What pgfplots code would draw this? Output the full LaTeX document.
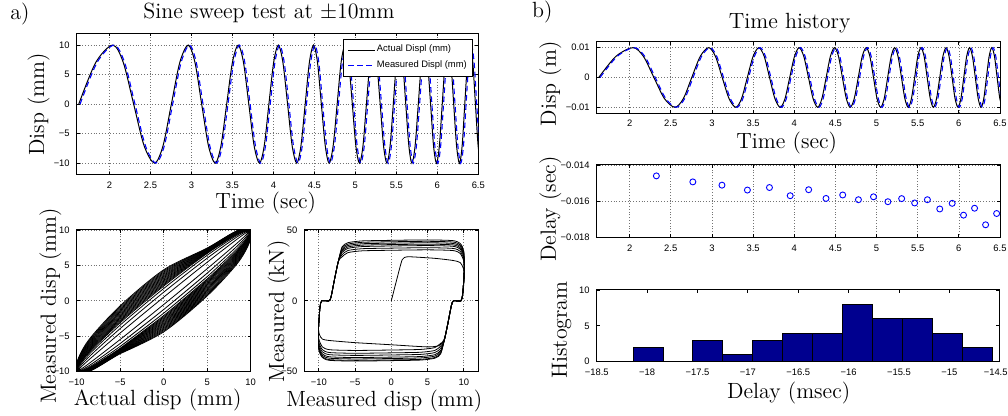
\documentclass[border=0pt]{standalone}
\usepackage{fontspec}
\usepackage{pgfplots}
\usepackage{pgfplotstable}
\pgfplotsset{compat=1.18}
\newfontfamily\tickfamily{Liberation Sans}
\newcommand\tickfont{\tickfamily\fontsize{4.7}{5.5}\selectfont}
\newcommand\labfont{\fontsize{11}{13}\selectfont}
\definecolor{histblue}{rgb}{0,0,0.56}
\pgfplotsset{
  mat/.style={
    scale only axis,
    tick align=inside,
    major tick length=1.6pt,
    tick style={black,line width=0.4pt},
    tick label style={font=\tickfont, inner sep=0pt},
    xticklabel style={yshift=-3.3pt},
    yticklabel style={xshift=-3.3pt},
    label style={font=\labfont, inner sep=0pt},
    major grid style={densely dotted, black!55, line width=0.35pt},
    axis line style={line width=0.5pt},
    scaled ticks=false,
  },
  timeaxis/.style={
    xmin=1.6, xmax=6.5,
    xtick={2,2.5,3,3.5,4,4.5,5,5.5,6,6.5},
    xticklabels={2,2.5,3,3.5,4,4.5,5,5.5,6,6.5},
  },
  loop/.style={black, line width=0.4pt, smooth, mark=none},
  hyst/.style={black, line width=0.4pt, smooth, tension=0.4, mark=none},
  actline/.style={black, line width=0.5pt, smooth, mark=none},
  measline/.style={blue, line width=0.55pt, dash pattern=on 2.8pt off 1.8pt, smooth, mark=none},
}
\pgfplotstableread{
t v
1.625 0
1.833 7.07
2.04 10
2.168 7.07
2.295 0
2.423 -7.07
2.55 -10
2.653 -7.07
2.755 0
2.858 7.07
2.96 10
3.043 7.07
3.125 0
3.208 -7.07
3.29 -10
3.36 -7.07
3.43 0
3.50 7.07
3.57 10
3.635 7.07
3.70 0
3.765 -7.07
3.83 -10
3.888 -7.07
3.945 0
4.003 7.07
4.06 10
4.116 7.07
4.173 0
4.229 -7.07
4.285 -10
4.336 -7.07
4.388 0
4.439 7.07
4.49 10
4.538 7.07
4.585 0
4.633 -7.07
4.68 -10
4.729 -7.07
4.778 0
4.826 7.07
4.875 10
4.919 7.07
4.963 0
5.006 -7.07
5.05 -10
5.093 -7.07
5.135 0
5.178 7.07
5.22 10
5.261 7.07
5.303 0
5.344 -7.07
5.385 -10
5.424 -7.07
5.463 0
5.501 7.07
5.54 10
5.578 7.07
5.615 0
5.653 -7.07
5.69 -10
5.729 -7.07
5.768 0
5.806 7.07
5.845 10
5.881 7.07
5.918 0
5.954 -7.07
5.99 -10
6.025 -7.07
6.06 0
6.095 7.07
6.13 10
6.165 7.07
6.20 0
6.235 -7.07
6.27 -10
6.303 -7.07
6.335 0
6.368 7.07
6.40 10
6.433 7.07
6.465 0
6.498 -7.07
6.53 -10
}\actual
\pgfplotstableread{
t v
1.641 0
1.849 7.07
2.056 10
2.184 7.07
2.311 0
2.439 -7.07
2.566 -10
2.669 -7.07
2.771 0
2.874 7.07
2.976 10
3.059 7.07
3.141 0
3.224 -7.07
3.306 -10
3.376 -7.07
3.446 0
3.516 7.07
3.586 10
3.651 7.07
3.716 0
3.781 -7.07
3.846 -10
3.904 -7.07
3.961 0
4.019 7.07
4.076 10
4.132 7.07
4.189 0
4.245 -7.07
4.301 -10
4.352 -7.07
4.404 0
4.455 7.07
4.506 10
4.554 7.07
4.601 0
4.649 -7.07
4.696 -10
4.745 -7.07
4.794 0
4.842 7.07
4.891 10
4.935 7.07
4.979 0
5.022 -7.07
5.066 -10
5.109 -7.07
5.151 0
5.194 7.07
5.236 10
5.277 7.07
5.319 0
5.360 -7.07
5.401 -10
5.440 -7.07
5.479 0
5.517 7.07
5.556 10
5.594 7.07
5.631 0
5.669 -7.07
5.706 -10
5.745 -7.07
5.784 0
5.822 7.07
5.861 10
5.897 7.07
5.934 0
5.970 -7.07
6.006 -10
6.041 -7.07
6.076 0
6.111 7.07
6.146 10
6.181 7.07
6.216 0
6.251 -7.07
6.286 -10
6.319 -7.07
6.351 0
6.384 7.07
6.416 10
6.449 7.07
6.481 0
6.514 -7.07
6.546 -10
}\measured
\pgfplotstableread{
t d
2.325 -0.01460
2.768 -0.01493
3.122 -0.01511
3.431 -0.01538
3.699 -0.01524
3.951 -0.01569
4.175 -0.01536
4.386 -0.01584
4.589 -0.01565
4.780 -0.01591
4.963 -0.01575
5.138 -0.01602
5.305 -0.01585
5.463 -0.01609
5.618 -0.01591
5.768 -0.01642
5.919 -0.01611
6.057 -0.01676
6.191 -0.01638
6.325 -0.01729
6.459 -0.01667
}\delay
\begin{document}
\begin{tikzpicture}
\useasboundingbox (0,0) rectangle (504pt,208pt);
\node[anchor=base west, inner sep=0pt, font=\labfont] at (5pt,198pt) {a)};
\node[anchor=base, inner sep=0pt, font=\labfont] at (134.5pt,198.5pt) {Sine sweep test at $\pm$10mm};
\node[anchor=base west, inner sep=0pt, font=\labfont] at (265.85pt,199pt) {b)};
\node[anchor=base, inner sep=0pt, font=\labfont] at (394.85pt,193.5pt) {Time history};

% ---- a) top
\begin{axis}[mat, timeaxis, at={(38.35pt,120.5pt)}, anchor=south west,
  width=200.8pt, height=70.85pt, ymin=-12, ymax=12,
  ytick={-10,-5,0,5,10}, yticklabels={−10,−5,0,5,10},
  grid=major,
  xlabel={Time (sec)}, ylabel={Disp (mm)},
  xlabel style={at={(axis description cs:0.5,-0.12)}, anchor=north, xshift=-5.85pt},
  ylabel style={at={(axis description cs:-0.0665,0.5)}, anchor=south},
  legend style={at={(axis description cs:0.9868,0.96)}, anchor=north east,
    font=\tickfont, draw=black, line width=0.4pt, fill=white,
    inner xsep=2.2pt, inner ysep=2.2pt, row sep=1.5pt,
    nodes={inner sep=0.7pt}},
  legend cell align=left,
  legend image code/.code={\draw[#1] (0pt,0pt) -- (13.5pt,0pt);}]
\addplot[actline] table[x=t,y=v]{\actual};
\addlegendentry{Actual Displ (mm)}
\addplot[measline] table[x=t,y=v]{\measured};
\addlegendentry{Measured Displ (mm)}
\end{axis}

% ---- a) bottom left
\begin{axis}[mat, at={(38.35pt,22.15pt)}, anchor=south west,
  width=87pt, height=70.85pt, xmin=-10, xmax=10, ymin=-10, ymax=10,
  xtick={-10,-5,0,5,10}, xticklabels={−10,−5,0,5,10},
  ytick={-10,-5,0,5,10}, yticklabels={−10,−5,0,5,10},
  grid=major,
  xlabel={Actual disp (mm)}, ylabel={Measured disp (mm)},
  xlabel style={at={(axis description cs:0.5,-0.12)}, anchor=north, xshift=-3pt},
  ylabel style={at={(axis description cs:-0.0862,0.464)}, anchor=south}]
\addplot[loop] coordinates {(-5,-5.45)(0,-0.52)(5,4.54)(8.66,8.39)(10,9.99)(8.66,8.91)(5,5.45)(0,0.52)(-5,-4.54)(-8.66,-8.39)(-10,-9.99)(-8.66,-8.91)(-5,-5.45)(0,-0.52)(5,4.54)};
\addplot[loop] coordinates {(-5,-6.02)(0,-1.22)(5,3.91)(8.66,7.99)(10,9.93)(8.66,9.21)(5,6.02)(0,1.22)(-5,-3.91)(-8.66,-7.99)(-10,-9.93)(-8.66,-9.21)(-5,-6.02)(0,-1.22)(5,3.91)};
\addplot[loop] coordinates {(-5,-6.43)(0,-1.74)(5,3.42)(8.66,7.66)(10,9.85)(8.66,9.40)(5,6.43)(0,1.74)(-5,-3.42)(-8.66,-7.66)(-10,-9.85)(-8.66,-9.40)(-5,-6.43)(0,-1.74)(5,3.42)};
\addplot[loop] coordinates {(-5,-6.69)(0,-2.08)(5,3.09)(8.66,7.43)(10,9.78)(8.66,9.51)(5,6.69)(0,2.08)(-5,-3.09)(-8.66,-7.43)(-10,-9.78)(-8.66,-9.51)(-5,-6.69)(0,-2.08)(5,3.09)};
\addplot[loop] coordinates {(-5,-6.76)(0,-2.25)(5,2.92)(8.66,7.31)(10,9.74)(8.66,9.56)(5,6.76)(0,2.25)(-5,-2.92)(-8.66,-7.31)(-10,-9.74)(-8.66,-9.56)(-5,-6.76)(0,-2.25)(5,2.92)};
\addplot[loop] coordinates {(-5,-6.83)(0,-2.42)(5,2.76)(8.66,7.19)(10,9.70)(8.66,9.61)(5,6.83)(0,2.42)(-5,-2.76)(-8.66,-7.19)(-10,-9.70)(-8.66,-9.61)(-5,-6.83)(0,-2.42)(5,2.76)};
\addplot[loop] coordinates {(-5,-6.89)(0,-2.59)(5,2.59)(8.66,7.07)(10,9.66)(8.66,9.66)(5,6.89)(0,2.59)(-5,-2.59)(-8.66,-7.07)(-10,-9.66)(-8.66,-9.66)(-5,-6.89)(0,-2.59)(5,2.59)};
\addplot[loop] coordinates {(-5,-6.95)(0,-2.76)(5,2.42)(8.66,6.95)(10,9.61)(8.66,9.70)(5,6.95)(0,2.76)(-5,-2.42)(-8.66,-6.95)(-10,-9.61)(-8.66,-9.70)(-5,-6.95)(0,-2.76)(5,2.42)};
\addplot[loop] coordinates {(-5,-7.01)(0,-2.92)(5,2.25)(8.66,6.82)(10,9.56)(8.66,9.74)(5,7.01)(0,2.92)(-5,-2.25)(-8.66,-6.82)(-10,-9.56)(-8.66,-9.74)(-5,-7.01)(0,-2.92)(5,2.25)};
\addplot[loop] coordinates {(-5,-7.07)(0,-3.09)(5,2.08)(8.66,6.69)(10,9.51)(8.66,9.78)(5,7.07)(0,3.09)(-5,-2.08)(-8.66,-6.69)(-10,-9.51)(-8.66,-9.78)(-5,-7.07)(0,-3.09)(5,2.08)};
\addplot[loop] coordinates {(-5,-7.13)(0,-3.26)(5,1.91)(8.66,6.56)(10,9.46)(8.66,9.82)(5,7.13)(0,3.26)(-5,-1.91)(-8.66,-6.56)(-10,-9.46)(-8.66,-9.82)(-5,-7.13)(0,-3.26)(5,1.91)};
\addplot[loop] coordinates {(-5,-7.18)(0,-3.42)(5,1.74)(8.66,6.43)(10,9.40)(8.66,9.85)(5,7.18)(0,3.42)(-5,-1.74)(-8.66,-6.43)(-10,-9.40)(-8.66,-9.85)(-5,-7.18)(0,-3.42)(5,1.74)};
\addplot[loop] coordinates {(-5,-7.23)(0,-3.58)(5,1.56)(8.66,6.29)(10,9.34)(8.66,9.88)(5,7.23)(0,3.58)(-5,-1.56)(-8.66,-6.29)(-10,-9.34)(-8.66,-9.88)(-5,-7.23)(0,-3.58)(5,1.56)};
\addplot[loop] coordinates {(-5,-7.28)(0,-3.75)(5,1.39)(8.66,6.16)(10,9.27)(8.66,9.90)(5,7.28)(0,3.75)(-5,-1.39)(-8.66,-6.16)(-10,-9.27)(-8.66,-9.90)(-5,-7.28)(0,-3.75)(5,1.39)};
\addplot[loop] coordinates {(-5,-7.33)(0,-3.91)(5,1.22)(8.66,6.02)(10,9.21)(8.66,9.93)(5,7.33)(0,3.91)(-5,-1.22)(-8.66,-6.02)(-10,-9.21)(-8.66,-9.93)(-5,-7.33)(0,-3.91)(5,1.22)};
\addplot[loop] coordinates {(-5,-7.37)(0,-4.07)(5,1.05)(8.66,5.88)(10,9.14)(8.66,9.95)(5,7.37)(0,4.07)(-5,-1.05)(-8.66,-5.88)(-10,-9.14)(-8.66,-9.95)(-5,-7.37)(0,-4.07)(5,1.05)};
\addplot[loop] coordinates {(-5,-7.41)(0,-4.23)(5,0.87)(8.66,5.74)(10,9.06)(8.66,9.96)(5,7.41)(0,4.23)(-5,-0.87)(-8.66,-5.74)(-10,-9.06)(-8.66,-9.96)(-5,-7.41)(0,-4.23)(5,0.87)};
\addplot[loop] coordinates {(-5,-7.45)(0,-4.38)(5,0.70)(8.66,5.59)(10,8.99)(8.66,9.98)(5,7.45)(0,4.38)(-5,-0.70)(-8.66,-5.59)(-10,-8.99)(-8.66,-9.98)(-5,-7.45)(0,-4.38)(5,0.70)};
\end{axis}

% ---- a) bottom right
\begin{axis}[mat, at={(152.15pt,22.15pt)}, anchor=south west,
  width=87pt, height=70.85pt, xmin=-12, xmax=12, ymin=-50, ymax=50,
  xtick={-10,-5,0,5,10}, xticklabels={−10,−5,0,5,10},
  ytick={-50,0,50}, yticklabels={−50,0,50},
  grid=major,
  xlabel={Measured disp (mm)}, ylabel={Measured (kN)},
  xlabel style={at={(axis description cs:0.5,-0.125)}, anchor=north, xshift=-3.5pt},
  ylabel style={at={(axis description cs:-0.082,0.425)}, anchor=south}]
\addplot[hyst] coordinates {(0,0)(0.75,15)(1.5,29)(2.1,31)(3,31)(6,30)(8.5,28.5)(9.5,27)(10,22)(10.05,15)(9.85,5)(9.6,0)(8.6,0)(8.3,-3)(7.8,-16)(7.3,-27)(6.6,-31.5)(5,-32.5)(0,-31)(-5,-29.5)(-8.5,-28)(-9.5,-27)(-9.9,-24)(-10.05,-20)};
\addplot[hyst] coordinates {(-10.05,-20)(-9.85,-5)(-9.6,0)(-8.6,0)(-8.3,3)(-7.8,16)(-7.3,28)(-6.8,31)(-6,34)(-4,35.3)(0,35.7)(5,36)(8.5,35.5)(9.5,33.5)(10,28)(10.05,20)(9.85,5)(9.6,0)(8.6,0)(8.3,-3)(7.8,-16)(7.3,-28)(6.8,-30)(6,-33)(4,-34.3)(0,-34.7)(-5,-35)(-8.5,-34.5)(-9.5,-32.5)(-10,-27)(-10.05,-20)};
\addplot[hyst] coordinates {(-10.05,-20)(-9.85,-5)(-9.6,0)(-8.6,0)(-8.3,3)(-7.8,16)(-7.3,28)(-6.8,32.5)(-6,35.5)(-4,36.8)(0,37.2)(5,37.5)(8.5,37)(9.5,35)(10,29.5)(10.05,20)(9.85,5)(9.6,0)(8.6,0)(8.3,-3)(7.8,-16)(7.3,-28)(6.8,-32)(6,-35)(4,-36.3)(0,-36.7)(-5,-37)(-8.5,-36.5)(-9.5,-34.5)(-10,-29)(-10.05,-20)};
\addplot[hyst] coordinates {(-10.05,-20)(-9.85,-5)(-9.6,0)(-8.6,0)(-8.3,3)(-7.8,16)(-7.3,28)(-6.8,34)(-6,37)(-4,38.3)(0,38.7)(5,39)(8.5,38.5)(9.5,36.5)(10,31)(10.05,20)(9.85,5)(9.6,0)(8.6,0)(8.3,-3)(7.8,-16)(7.3,-28)(6.8,-33.5)(6,-36.5)(4,-37.8)(0,-38.2)(-5,-38.5)(-8.5,-38)(-9.5,-36)(-10,-30.5)(-10.05,-20)};
\addplot[hyst] coordinates {(-10.05,-20)(-9.85,-5)(-9.6,0)(-8.6,0)(-8.3,3)(-7.8,16)(-7.3,28)(-6.8,35)(-6,38)(-4,39.3)(0,39.7)(5,40)(8.5,39.5)(9.5,37.5)(10,32)(10.05,20)(9.85,5)(9.6,0)(8.6,0)(8.3,-3)(7.8,-16)(7.3,-28)(6.8,-35)(6,-38)(4,-39.3)(0,-39.7)(-5,-40)(-8.5,-39.5)(-9.5,-37.5)(-10,-32)(-10.05,-20)};
\addplot[hyst] coordinates {(-10.05,-20)(-9.85,-5)(-9.6,0)(-8.6,0)(-8.3,3)(-7.8,16)(-7.3,28)(-6.8,36)(-6,39)(-4,40.3)(0,40.7)(5,41)(8.5,40.5)(9.5,38.5)(10,33)(10.05,20)(9.85,5)(9.6,0)(8.6,0)(8.3,-3)(7.8,-16)(7.3,-28)(6.8,-36)(6,-39)(4,-40.3)(0,-40.7)(-5,-41)(-8.5,-40.5)(-9.5,-38.5)(-10,-33)(-10.05,-20)};
\addplot[hyst] coordinates {(-10.05,-20)(-9.85,-5)(-9.6,0)(-8.6,0)(-8.3,3)(-7.8,16)(-7.3,28)(-6.8,37)(-6,40)(-4,41.3)(0,41.7)(5,42)(8.5,41.5)(9.5,39.5)(10,34)(10.05,20)(9.85,5)(9.6,0)(8.6,0)(8.3,-3)(7.8,-16)(7.3,-28)(6.8,-37)(6,-40)(4,-41.3)(0,-41.7)(-5,-42)(-8.5,-41.5)(-9.5,-39.5)(-10,-34)(-10.05,-20)};
\addplot[hyst] coordinates {(-10.05,-20)(-9.85,-5)(-9.6,0)(-8.6,0)(-8.3,3)(-7.8,16)(-7.3,28)(-6.8,38)(-6,41)(-4,42.3)(0,42.7)(5,43)(8.5,42.5)(9.5,40.5)(10,35)(10.05,20)(9.85,5)(9.6,0)(8.6,0)(8.3,-3)(7.8,-16)(7.3,-28)(6.8,-37.5)(6,-40.5)(4,-41.8)(0,-42.2)(-5,-42.5)(-8.5,-42)(-9.5,-40)(-10,-34.5)(-10.05,-20)};
\end{axis}

% ---- b) top
\begin{axis}[mat, timeaxis, at={(298.35pt,151.35pt)}, anchor=south west,
  width=201.65pt, height=35.8pt, ymin=-12, ymax=12,
  ytick={-10,0,10}, yticklabels={−0.01,0,0.01},
  grid=major,
  xlabel={Time (sec)}, ylabel={Disp (m)},
  xlabel style={at={(axis description cs:0.5,-0.257)}, anchor=north, xshift=-5.8pt},
  ylabel style={at={(axis description cs:-0.0868,0.41)}, anchor=south}]
\addplot[actline] table[x=t,y=v]{\actual};
\addplot[measline] table[x=t,y=v]{\measured};
\end{axis}

% ---- b) middle
\begin{axis}[mat, timeaxis, at={(298.35pt,89.15pt)}, anchor=south west,
  width=201.65pt, height=36.35pt, ymin=-0.018, ymax=-0.014,
  ytick={-0.018,-0.016,-0.014}, yticklabels={−0.018,−0.016,−0.014},
  grid=major,
  ylabel={Delay (sec)},
  ylabel style={at={(axis description cs:-0.0868,0.394)}, anchor=south}]
\addplot[only marks, mark=o, mark size=1.5pt, blue, mark options={line width=0.45pt}] table[x=t,y=d]{\delay};
\end{axis}

% ---- b) bottom
\begin{axis}[mat, at={(298.35pt,27.15pt)}, anchor=south west,
  width=201.5pt, height=35.85pt, xmin=-18.5, xmax=-14.5, ymin=0, ymax=10,
  xtick={-18.5,-18,-17.5,-17,-16.5,-16,-15.5,-15,-14.5},
  xticklabels={−18.5,−18,−17.5,−17,−16.5,−16,−15.5,−15,\hspace{-4pt}−14.5},
  ytick={0,5,10}, yticklabels={0,5,10},
  xlabel={Delay (msec)}, ylabel={Histogram},
  xlabel style={at={(axis description cs:0.5,-0.279)}, anchor=north, xshift=-4.75pt},
  ylabel style={at={(axis description cs:-0.062,0.44)}, anchor=south}]
\addplot[ybar interval, fill=histblue, draw=black, line width=0.4pt] coordinates {(-18.434,0) (-18.136,2) (-17.838,0) (-17.546,3) (-17.248,1) (-16.953,3) (-16.655,4) (-16.357,4) (-16.059,8) (-15.763,6) (-15.465,6) (-15.17,4) (-14.872,2) (-14.573,0)};
\end{axis}
\end{tikzpicture}
\end{document}
